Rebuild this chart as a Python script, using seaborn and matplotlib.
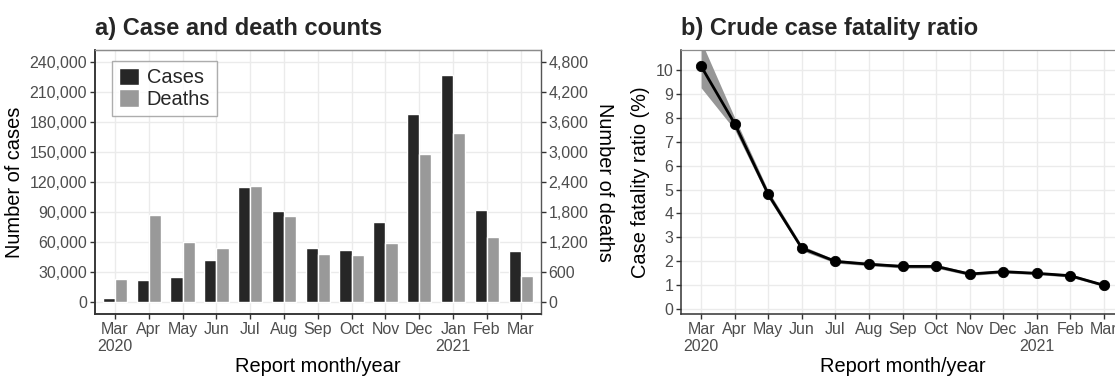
import numpy as np
import pandas as pd
import matplotlib
matplotlib.use("Agg")
import matplotlib.pyplot as plt
import seaborn as sns
from matplotlib.ticker import FuncFormatter

months = ["Mar", "Apr", "May", "Jun", "Jul", "Aug", "Sep", "Oct", "Nov", "Dec", "Jan", "Feb", "Mar "]
month_labels = ["Mar\n2020", "Apr", "May", "Jun", "Jul", "Aug", "Sep", "Oct", "Nov", "Dec", "Jan\n2021", "Feb", "Mar"]
cases = [4600, 22700, 25000, 42500, 115000, 91300, 54400, 52700, 80800, 188500, 227400, 92300, 51400]
deaths = [460, 1754, 1200, 1094, 2327, 1720, 975, 949, 1180, 2967, 3388, 1300, 528]
cfr = [10.15, 7.75, 4.8, 2.55, 2.0, 1.88, 1.79, 1.79, 1.47, 1.57, 1.5, 1.4, 1.0]
cfr_lo = [9.25, 7.5, 4.65, 2.45, 1.93, 1.82, 1.72, 1.72, 1.41, 1.51, 1.45, 1.34, 0.95]
cfr_hi = [11.2, 8.0, 4.95, 2.66, 2.07, 1.95, 1.86, 1.87, 1.54, 1.63, 1.55, 1.47, 1.06]
death_scale = 50

sns.set_theme(style="whitegrid")
plt.rcParams["font.family"] = ["Liberation Sans", "DejaVu Sans"]

tick_col = "#4D4D4D"
grid_col = "#EBEBEB"

fig = plt.figure(figsize=(11.15, 3.76), dpi=100)
axL = fig.add_axes([94.7/1115, 62/376, (541-94.7)/1115, 264/376])
axR = fig.add_axes([681/1115, 62/376, (1124-681)/1115, 264/376])

# ---- Left panel: bars
df = pd.DataFrame({
    "month": months * 2,
    "value": cases + [d * death_scale for d in deaths],
    "series": ["Cases"] * len(months) + ["Deaths"] * len(months),
})
sns.barplot(data=df, x="month", y="value", hue="series", order=months,
            palette={"Cases": "#262626", "Deaths": "#999999"},
            width=0.72, saturation=1, ax=axL, zorder=3)
axL.set_xlim(-0.6, len(months) - 0.4)
axL.set_ylim(-11500, 252000)
axL.set_yticks(np.arange(0, 240001, 30000))
axL.yaxis.set_major_formatter(FuncFormatter(lambda v, p: f"{int(v):,}"))
axL.set_xticks(range(len(months)))
axL.set_xticklabels(month_labels)
axL.set_xlabel("Report month/year", fontsize=14.4, color="black", labelpad=2)
axL.set_ylabel("Number of cases", fontsize=14.4, color="black", labelpad=4)
axL.set_title("a) Case and death counts", loc="left", fontsize=17, fontweight="bold", pad=11)

leg = axL.legend(loc="upper left", bbox_to_anchor=(0.038, 0.96), borderaxespad=0,
                 fontsize=14.4, handlelength=1.0, handleheight=1.0, handletextpad=0.4,
                 labelspacing=0.1, borderpad=0.35, frameon=True, fancybox=False, title=None)
leg.get_frame().set_edgecolor("#999999")
leg.get_frame().set_linewidth(1.0)

axL2 = axL.twinx()
axL2.set_ylim(-11500 / death_scale, 252000 / death_scale)
axL2.set_yticks(np.arange(0, 4801, 600))
axL2.yaxis.set_major_formatter(FuncFormatter(lambda v, p: f"{int(v):,}"))
axL2.set_ylabel("Number of deaths", fontsize=14.4, color="black", rotation=-90, labelpad=18)
axL2.grid(False)

# ---- Right panel: CFR line
x = np.arange(len(months))
axR.fill_between(x, cfr_lo, cfr_hi, color="#969696", alpha=1.0, linewidth=0, zorder=2)
sns.lineplot(x=x, y=cfr, color="black", linewidth=2.0, ax=axR, zorder=3)
sns.scatterplot(x=x, y=cfr, color="black", s=55, edgecolor="black", ax=axR, zorder=4)
axR.set_xlim(-0.6, len(months) - 0.4)
axR.set_ylim(-0.2, 10.83)
axR.set_yticks(range(0, 11))
axR.set_xticks(x)
axR.set_xticklabels(month_labels)
axR.set_xlabel("Report month/year", fontsize=14.4, color="black", labelpad=2)
axR.set_ylabel("Case fatality ratio (%)", fontsize=14.4, color="black", labelpad=4)
axR.set_title("b) Crude case fatality ratio", loc="left", fontsize=17, fontweight="bold", pad=11)

for ax in (axL, axR, axL2):
    ax.set_facecolor("none")
    ax.tick_params(axis="both", which="major", labelsize=11.5, colors="#333333",
                   labelcolor=tick_col, length=3.5, width=1.0, pad=2)
for ax in (axL, axR):
    ax.grid(True, color=grid_col, linewidth=1.0, zorder=0)
    ax.set_axisbelow(True)
    ax.tick_params(axis="x", bottom=True)
    ax.tick_params(axis="y", left=True)
axL2.tick_params(axis="y", right=True)

for ax in (axL, axR, axL2):
    for side in ("top", "right"):
        ax.spines[side].set_color("#8C8C8C")
        ax.spines[side].set_linewidth(0.9)
    for side in ("left", "bottom"):
        ax.spines[side].set_color("#333333")
        ax.spines[side].set_linewidth(1.1)
axL2.spines["right"].set_color("#555555")

for lbl in axL.get_xticklabels() + axR.get_xticklabels():
    lbl.set_multialignment("center")

fig.savefig("out.png", dpi=100)
